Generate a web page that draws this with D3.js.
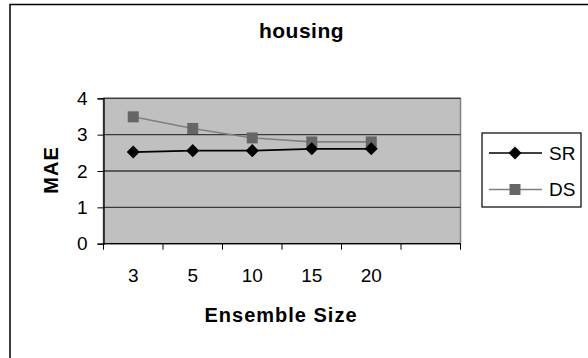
<!DOCTYPE html>
<html><head><meta charset="utf-8">
<script src="https://cdn.jsdelivr.net/npm/d3@7"></script>
<style>body{margin:0;background:#fff}svg{display:block}</style>
</head><body>
<script>
const categories = ["3","5","10","15","20",""];
const seriesNames = ["SR","DS"];
const srValues = [2.52, 2.56, 2.56, 2.61, 2.61];
const dsValues = [3.49, 3.17, 2.91, 2.80, 2.80];
const yTicks = [0,1,2,3,4];
const title = "housing";
const xTitle = "Ensemble Size";
const yTitle = "MAE";

const W = 588, H = 358;
const svg = d3.select("body").append("svg").attr("width", W).attr("height", H);
const font = "Arial, 'Liberation Sans', sans-serif";

// outer chart border
svg.append("rect").attr("x", 10).attr("y", 4.5).attr("width", 620).attr("height", 400)
  .attr("fill", "#fff").attr("stroke", "#000").attr("stroke-width", 1.5);

const pl = 103.5, pr = 460.5, pt = 98.3, pb = 243.7;
const x = d3.scaleBand().domain(categories).range([pl, pr]);
const y = d3.scaleLinear().domain([0, 4]).range([pb, pt]);

svg.append("rect").attr("x", pl).attr("y", pt).attr("width", pr - pl).attr("height", pb - pt)
  .attr("fill", "#c0c0c0").attr("stroke", "#808080").attr("stroke-width", 1.5);

// gridlines
svg.append("g").selectAll("line").data(yTicks.filter(d => d > 0)).join("line")
  .attr("x1", pl).attr("x2", pr).attr("y1", d => y(d)).attr("y2", d => y(d))
  .attr("stroke", "#3a3a3a").attr("stroke-width", 1.3);

// y axis
const ya = svg.append("g").attr("transform", `translate(${pl},0)`)
  .call(d3.axisLeft(y).tickValues(yTicks).tickFormat(d3.format("d")).tickSize(6).tickPadding(10));
ya.select(".domain").attr("stroke", "#000").attr("stroke-width", 1.3);
ya.selectAll("line").attr("stroke", "#000");
ya.selectAll("text").attr("font-family", font).attr("font-size", 19).attr("fill", "#000");

// x axis with ticks between categories
const xa = svg.append("g").attr("transform", `translate(0,${pb})`);
xa.append("line").attr("x1", pl).attr("x2", pr).attr("stroke", "#000").attr("stroke-width", 1.3);
const bounds = categories.map(c => x(c)).concat([pr]);
xa.selectAll("line.t").data(bounds).join("line").attr("class", "t")
  .attr("x1", d => d).attr("x2", d => d).attr("y1", 0).attr("y2", 6).attr("stroke", "#000");
xa.selectAll("text").data(categories).join("text")
  .attr("x", d => x(d) + x.bandwidth() / 2).attr("y", 38)
  .attr("text-anchor", "middle").attr("font-family", font).attr("font-size", 19).text(d => d);

const cx = (i) => x(categories[i]) + x.bandwidth() / 2;
const line = d3.line().x((d, i) => cx(i)).y(d => y(d));

// DS
svg.append("path").attr("d", line(dsValues)).attr("fill", "none").attr("stroke", "#808080").attr("stroke-width", 1.6);
svg.append("g").selectAll("rect").data(dsValues).join("rect")
  .attr("x", (d, i) => cx(i) - 5.5).attr("y", d => y(d) - 5.5).attr("width", 11).attr("height", 11).attr("fill", "#666");
// SR
svg.append("path").attr("d", line(srValues)).attr("fill", "none").attr("stroke", "#000").attr("stroke-width", 1.6);
svg.append("g").selectAll("path").data(srValues).join("path")
  .attr("d", d3.symbol().type(d3.symbolSquare).size(85)).attr("transform", (d, i) => `translate(${cx(i)},${y(d)}) rotate(45)`)
  .attr("fill", "#000");

// titles
svg.append("text").attr("x", 301.5).attr("y", 38).attr("text-anchor", "middle")
  .attr("font-family", font).attr("font-size", 21).attr("font-weight", "bold").attr("letter-spacing", 0.5).text(title);
svg.append("text").attr("x", 281).attr("y", 322).attr("text-anchor", "middle")
  .attr("font-family", font).attr("font-size", 20).attr("font-weight", "bold").attr("letter-spacing", 1).text(xTitle);
svg.append("text").attr("transform", "translate(58,170) rotate(-90)").attr("text-anchor", "middle")
  .attr("font-family", font).attr("font-size", 20).attr("font-weight", "bold").attr("letter-spacing", 1).text(yTitle);

// legend
const lg = svg.append("g");
lg.append("rect").attr("x", 482).attr("y", 133).attr("width", 99).attr("height", 74)
  .attr("fill", "#fff").attr("stroke", "#000").attr("stroke-width", 1.2);
const ly = [153, 189.5];
seriesNames.forEach((n, i) => {
  const col = i === 0 ? "#000" : "#808080";
  lg.append("line").attr("x1", 489).attr("x2", 542).attr("y1", ly[i]).attr("y2", ly[i]).attr("stroke", col).attr("stroke-width", 1.6);
  if (i === 0) {
    lg.append("path").attr("d", d3.symbol().type(d3.symbolSquare).size(85)()).attr("transform", `translate(515,${ly[i]}) rotate(45)`).attr("fill", "#000");
  } else {
    lg.append("rect").attr("x", 509.5).attr("y", ly[i] - 5.5).attr("width", 11).attr("height", 11).attr("fill", "#666");
  }
  lg.append("text").attr("x", 549).attr("y", ly[i] + 6.5).attr("font-family", font).attr("font-size", 19).text(n);
});
</script>
</body></html>
